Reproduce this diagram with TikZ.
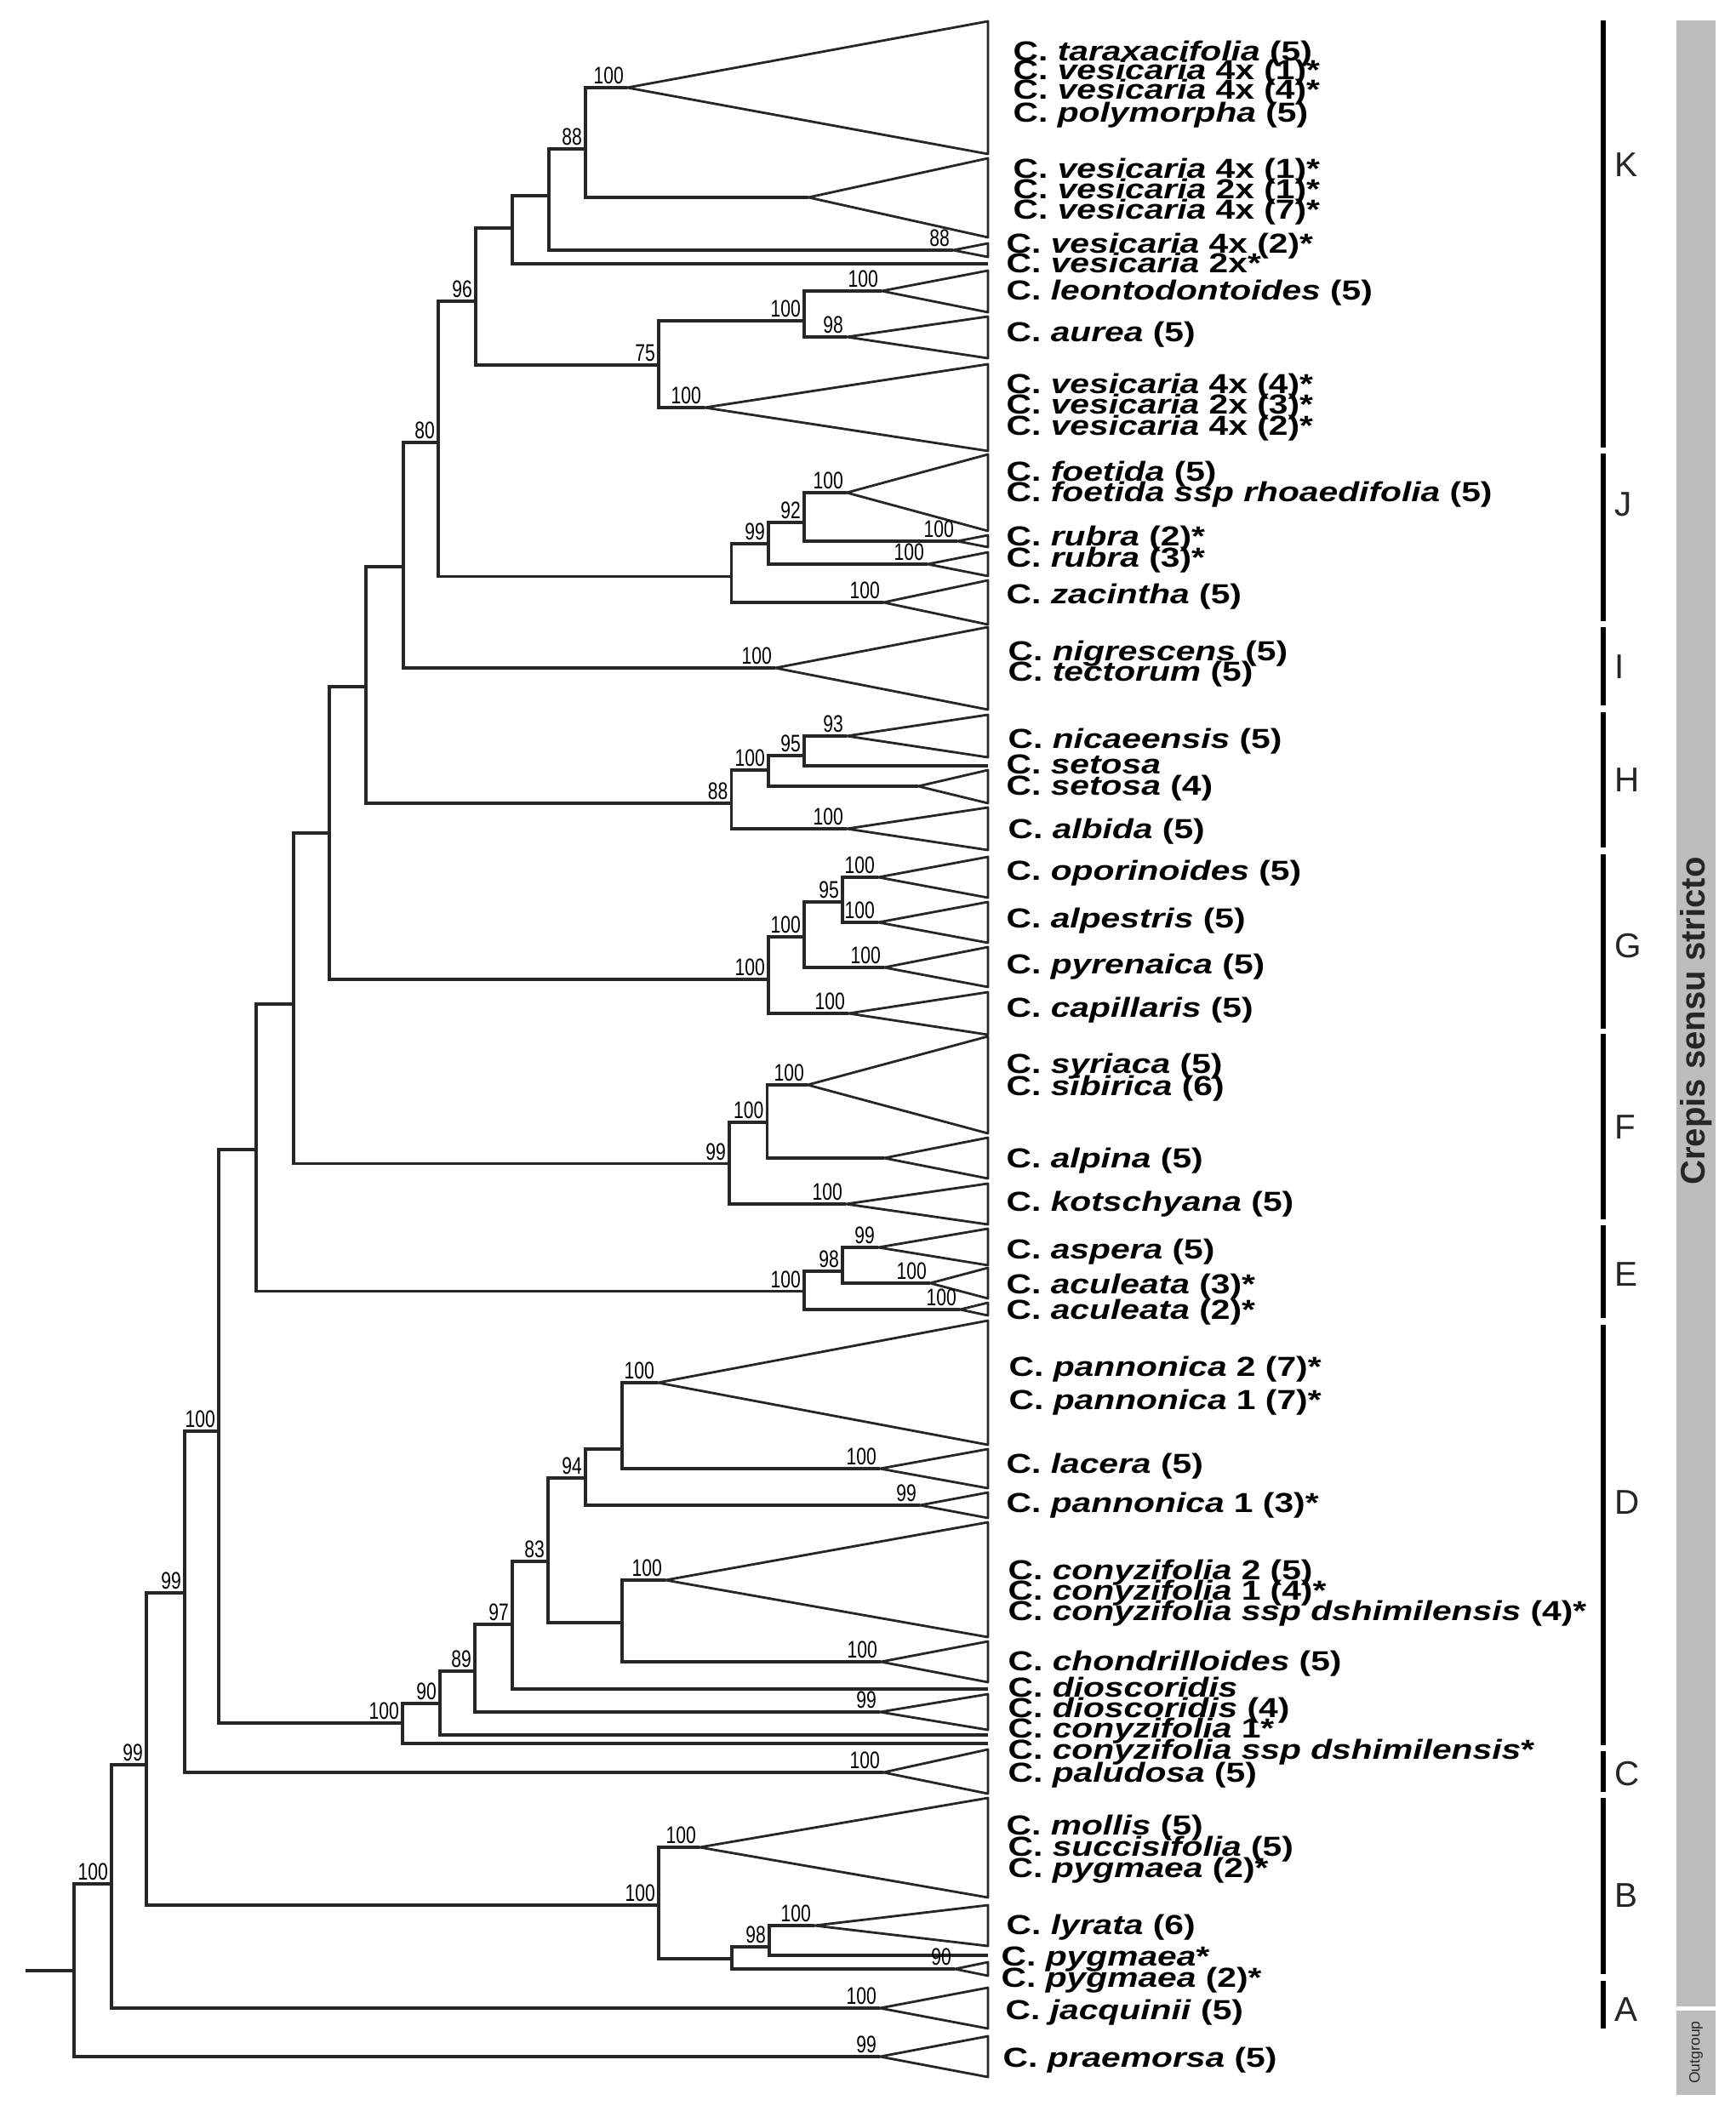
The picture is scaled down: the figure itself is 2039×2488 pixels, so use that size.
\documentclass[tikz,border=0pt]{standalone}
\usepackage{fontspec}
\setmainfont{Liberation Sans}
\newfontfamily\taxfont[FakeStretch=1.26]{Liberation Sans}
\newfontfamily\supfont[FakeStretch=0.75]{Liberation Sans}
\usepackage{xcolor}
\definecolor{bargrey}{HTML}{BDBDBD}
\definecolor{inkgrey}{HTML}{262626}
\newcommand{\crp}[1]{C. \textit{#1}}
\tikzset{
  br/.style={draw=inkgrey, line width=1.05pt},
  tri/.style={draw=inkgrey, line width=0.8pt, line join=round},
  sup/.style={font=\supfont\fontsize{8}{8}\selectfont, inner sep=1pt, anchor=south east},
  taxon/.style={font=\taxfont\bfseries\fontsize{9.2}{9.2}\selectfont, inner sep=0pt, anchor=base west, yshift=-3.3pt},
  grpbar/.style={draw=black, line width=1.6pt},
  grplab/.style={font=\fontsize{11.5}{11.5}\selectfont, text=inkgrey, inner sep=0pt, anchor=west},
}

\begin{document}
\begin{tikzpicture}[x=0.01cm, y=-0.01cm]
  \useasboundingbox (0,0) rectangle (2039,2488);

  % collapsed clades: apex, top and bottom at the tip line
  \foreach \n/\ax/\ay/\tp/\bt in {t1/737/103/25/181, t2/950/232/186/279, t3/1120/294/286/302,
      t4/1036/342/318/367, t5/995/396/372/421, t6/828/479/428/530, t7/995/579/534/624,
      t8/1125/636/629/643, t9/1090/663/649/677, t10/1038/708/682/734, t11/911/785/737/834,
      t12/995/865/840/890, t13/1079/924/905/944, t14/995/974/949/999, t15/1032/1031/1007/1055,
      t16/1032/1084/1060/1108, t17/1039/1137/1113/1160, t18/997/1191/1166/1216,
      t19/949/1275/1218/1332, t20/1039/1361/1337/1385, t21/994/1415/1391/1439,
      t22/1032/1466/1444/1487, t23/1093/1508/1490/1526, t24/1128/1539/1531/1546,
      t25/773/1625/1552/1698, t26/1034/1726/1703/1749, t27/1081/1769/1754/1784,
      t28/782/1857/1789/1924, t29/1035/1953/1929/1977, t30/1034/2012/1991/2033,
      t31/1038/2083/2056/2108, t32/822/2171/2113/2230, t33/957/2263/2239/2287,
      t34/1122/2314/2306/2322, t35/1034/2360/2336/2384, t36/1034/2417/2393/2441}
  {
    \coordinate (\n) at (\ax,\ay);
    \draw[tri] (\n) -- (1161,\tp) -- (1161,\bt) -- cycle;
  }

  % single terminals
  \foreach \n/\ly in {l1/310, l2/900, l3/1985, l4/2039, l5/2049, l6/2298}
    \coordinate (\n) at (1161,\ly);

  % internal nodes
  \foreach \n/\nx/\ny in {nR/87/2316, n131/131/2214, n172/172/2074, n217/217/1872,
      n257/257/1682, n301/301/1351, n345/345/1180, n387/387/979, n430/430/807,
      n474/474/666, n515/515/520, n559/559/354, n602/602/268, n645/645/230,
      n688/688/175, n774/774/429, n945/945/377, nJ/859.5/677.5, nJa/903/639,
      nJb/945/614, nH/859.5/944, nHa/903/905, nHb/945/888, nG/903/1151,
      nGa/945/1101, nGb/990/1060, nF/857/1367.5, nFa/901.5/1319, nE/945/1517.5,
      nEa/990/1494, nD/473/2025, nD1/517/2002, nD2/558/1964, nD3/602/1909,
      nD4/644/1835, nD5/688/1737, nD7/731/1703, nD6/731/1907, nB/774/2239,
      nBa/860/2302, nBb/904/2288}
    \coordinate (\n) at (\nx,\ny);

  \coordinate (root) at (30,2316);
  \draw[br] (root) -- (nR);

  \foreach \p/\c in {nR/n131, nR/t36, n131/n172, n131/t35, n172/n217, n172/nB,
      n217/n257, n217/t31, n257/n301, n257/nD, n301/n345, n301/nE, n345/n387, n345/nF,
      n387/n430, n387/nG, n430/n474, n430/nH, n474/n515, n474/t11, n515/n559, n515/nJ,
      n559/n602, n559/n774, n602/n645, n602/l1, n645/n688, n645/t3, n688/t1, n688/t2,
      n774/n945, n774/t6, n945/t4, n945/t5, nJ/nJa, nJ/t10, nJa/nJb, nJa/t9, nJb/t7, nJb/t8,
      nH/nHa, nH/t14, nHa/nHb, nHa/t13, nHb/t12, nHb/l2, nG/nGa, nG/t18, nGa/nGb, nGa/t17,
      nGb/t15, nGb/t16, nF/nFa, nF/t21, nFa/t19, nFa/t20, nE/nEa, nE/t24, nEa/t22, nEa/t23,
      nD/nD1, nD/l5, nD1/nD2, nD1/l4, nD2/nD3, nD2/t30, nD3/nD4, nD3/l3, nD4/nD5, nD4/nD6,
      nD5/nD7, nD5/t27, nD7/t25, nD7/t26, nD6/t28, nD6/t29, nB/t32, nB/nBa, nBa/nBb,
      nBa/t34, nBb/t33, nBb/l6}
    \draw[br] (\p) |- (\c);

  % bootstrap values
  \foreach \c/\v in {n688/88, n559/96, n515/80, t1/100, t3/88, n774/75, n945/100, t4/100,
      t5/98, t6/100, nJa/99, nJb/92, t7/100, t8/100, t9/100, t10/100, t11/100, nH/88,
      nHa/100, nHb/95, t12/93, t14/100, nG/100, nGa/100, nGb/95, t15/100, t16/100,
      t17/100, t18/100, nF/99, nFa/100, t19/100, t21/100, nE/100, nEa/98, t22/99,
      t23/100, t24/100, n257/100, nD/100, nD1/90, nD2/89, nD3/97, nD4/83, nD5/94,
      t25/100, t26/100, t27/99, t28/100, t29/100, t30/99, n217/99, t31/100, n172/99,
      nB/100, t32/100, nBb/98, t33/100, t34/90, n131/100, t35/100, t36/99}
    \node[sup] (s-\c) at (\c) {\v};

  % taxa
  \foreach \lx/\ly/\lt [count=\i] in {
      1190/60/{\crp{taraxacifolia} (5)}, 1190/82/{\crp{vesicaria} 4x (1)*},
      1190/105/{\crp{vesicaria} 4x (4)*}, 1190/132/{\crp{polymorpha} (5)},
      1190/198/{\crp{vesicaria} 4x (1)*}, 1190/222/{\crp{vesicaria} 2x (1)*},
      1190/246/{\crp{vesicaria} 4x (7)*}, 1182/286/{\crp{vesicaria} 4x (2)*},
      1182/309/{\crp{vesicaria} 2x*}, 1182/341/{\crp{leontodontoides} (5)},
      1182/390/{\crp{aurea} (5)}, 1182/451/{\crp{vesicaria} 4x (4)*},
      1182/475/{\crp{vesicaria} 2x (3)*}, 1182/500/{\crp{vesicaria} 4x (2)*},
      1182/554/{\crp{foetida} (5)}, 1182/578/{\crp{foetida ssp rhoaedifolia} (5)},
      1182/630/{\crp{rubra} (2)*}, 1182/655/{\crp{rubra} (3)*},
      1182/698/{\crp{zacintha} (5)}, 1184/765/{\crp{nigrescens} (5)},
      1184/789/{\crp{tectorum} (5)}, 1184/868/{\crp{nicaeensis} (5)},
      1182/898/{\crp{setosa}}, 1182/923/{\crp{setosa} (4)},
      1184/974/{\crp{albida} (5)}, 1182/1023/{\crp{oporinoides} (5)},
      1182/1079/{\crp{alpestris} (5)}, 1182/1133/{\crp{pyrenaica} (5)},
      1182/1184/{\crp{capillaris} (5)}, 1182/1250/{\crp{syriaca} (5)},
      1182/1276/{\crp{sibirica} (6)}, 1182/1361/{\crp{alpina} (5)},
      1182/1412/{\crp{kotschyana} (5)}, 1182/1468/{\crp{aspera} (5)},
      1182/1509/{\crp{aculeata} (3)*}, 1182/1539/{\crp{aculeata} (2)*},
      1185/1606/{\crp{pannonica} 2 (7)*}, 1185/1645/{\crp{pannonica} 1 (7)*},
      1182/1720/{\crp{lacera} (5)}, 1182/1766/{\crp{pannonica} 1 (3)*},
      1184/1845/{\crp{conyzifolia} 2 (5)}, 1184/1869/{\crp{conyzifolia} 1 (4)*},
      1184/1893/{\crp{conyzifolia ssp dshimilensis} (4)*}, 1184/1952/{\crp{chondrilloides} (5)},
      1184/1983/{\crp{dioscoridis}}, 1184/2007/{\crp{dioscoridis} (4)},
      1184/2031/{\crp{conyzifolia} 1*}, 1184/2056/{\crp{conyzifolia ssp dshimilensis}*},
      1184/2083/{\crp{paludosa} (5)}, 1182/2145/{\crp{mollis} (5)},
      1184/2170/{\crp{succisifolia} (5)}, 1184/2195/{\crp{pygmaea} (2)*},
      1182/2262/{\crp{lyrata} (6)}, 1176/2299/{\crp{pygmaea}*},
      1176/2324/{\crp{pygmaea} (2)*}, 1181/2362/{\crp{jacquinii} (5)},
      1178/2418/{\crp{praemorsa} (5)}}
    \node[taxon] (tx\i) at (\lx,\ly) {\lt};

  % clade bars
  \foreach \g/\tp/\bt/\ly in {K/24/526/194, J/533/730/593, I/737/829/784, H/837/996/917,
      G/1004/1209/1112, F/1215/1433/1325, E/1440/1549/1498, D/1557/2051/1766,
      C/2058/2106/2085, B/2113/2320/2228, A/2328/2384/2362}
  {
    \draw[grpbar] (1884,\tp) -- (1884,\bt);
    \node[grplab] (g-\g) at (1897,\ly) {\g};
  }

  \fill[bargrey] (1970,24) rectangle (2016,2358);
  \fill[bargrey] (1970,2363) rectangle (2016,2462);
  \node[rotate=90, font=\bfseries\fontsize{11.4}{11.4}\selectfont, text=inkgrey] (crepis) at (1993,1200) {Crepis sensu stricto};
  \node[rotate=90, font=\fontsize{5}{5}\selectfont, text=inkgrey] (outgroup) at (1993,2412) {Outgroup};
\end{tikzpicture}
\end{document}
